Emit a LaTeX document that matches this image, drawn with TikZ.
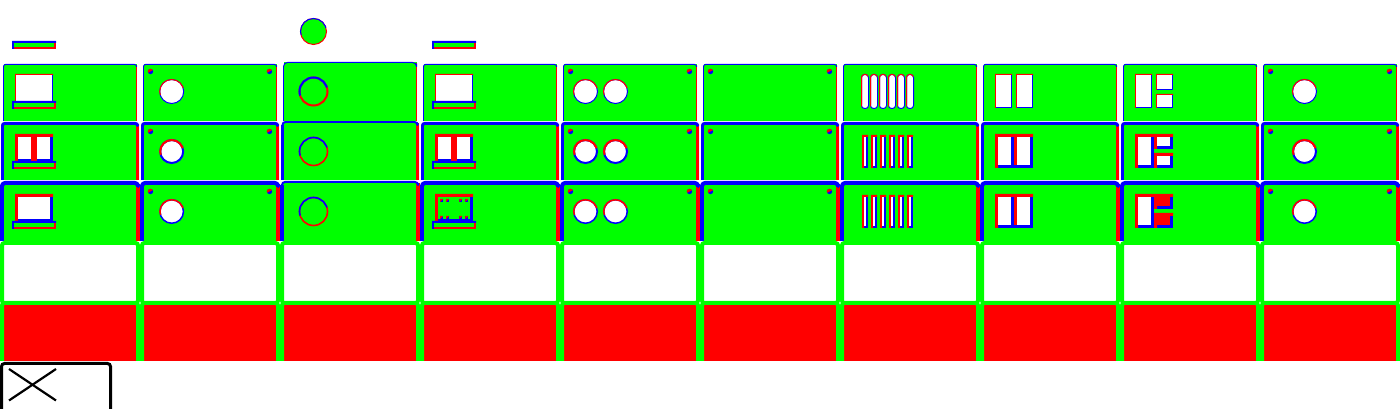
\documentclass[tikz,border=0pt]{standalone}
\definecolor{gr}{RGB}{0,255,0}
\definecolor{bl}{RGB}{0,0,255}
\definecolor{rd}{RGB}{255,0,0}
\tikzset{
  lw/.style={line width=#1*0.75pt},
  roofline/.style={lw=#1,line cap=butt,line join=round},
}
% panel: xl xr ytop lwtop lwside ybot rc
\newcommand\panelbox[7]{%
  \fill[gr] (#1,#3) rectangle (#2,#6);
  \draw[rd,roofline=#5] (#2,{#3+1}) -- (#2,#6);
  \draw[bl,roofline=#5] (#1,#6) -- (#1,{#3+#7});
  \draw[bl,roofline=#4,rounded corners=#7*0.75pt] (#1,{#3+#7+1}) -- (#1,#3) -- (#2,#3) -- (#2,{#3+1.2});
}
% two-tone rectangle: colour top/left, colour bottom/right, fill, x1 y1 x2 y2 lw
\newcommand\lrect[8]{%
  \fill[#2] (#4,#5) rectangle (#6,#7);
  \fill[#1] (#4,#7) -- (#4,#5) -- (#6,#5) -- (#6,{#5+#8}) -- ({#4+#8},{#5+#8}) -- ({#4+#8},#7) -- cycle;
  \fill[#3] ({#4+#8},{#5+#8}) rectangle ({#6-#8},{#7-#8});
}
\newcommand\sill[2]{\lrect{bl}{rd}{gr}{#1}{#2}{#1+44}{#2+8}{2}}
% two-tone ring: cx cy r lw fill upper-colour lower-colour
\newcommand\ring[7]{%
  \fill[#5] (#1,#2) circle[radius=#3*0.75pt];
  \draw[#7,lw=#4] (#1,#2) circle[radius=#3*0.75pt];
  \begin{scope}
    \clip ({#1-2*#3},{#2+0.6*#3}) -- ({#1+2*#3},{#2-0.6*#3}) -- ({#1+2*#3},{#2-3*#3}) -- ({#1-2*#3},{#2-3*#3}) -- cycle;
    \draw[#6,lw=#4] (#1,#2) circle[radius=#3*0.75pt];
  \end{scope}
}
\newcommand\screw[2]{%
  \fill[bl] (#1,#2) circle[radius=2.7*0.75pt];
  \begin{scope}
    \clip ({#1-4},{#2+2}) -- ({#1+4},{#2-2}) -- ({#1+4},{#2-6}) -- ({#1-4},{#2-6}) -- cycle;
    \fill[rd] (#1,#2) circle[radius=2.7*0.75pt];
  \end{scope}
}
\newcommand\fourscrews{%
  \foreach \sy in {71.5,131.5,191.5}{\screw{10.5}{\sy}\screw{129.5}{\sy}}
}
\newcommand\dotmark[2]{%
  \fill[bl] (#1,#2) rectangle ({#1+3},{#2+3});
  \fill[rd] (#1,#2) -- ({#1+3},#2) -- (#1,{#2+3}) -- cycle;
}
\begin{document}
\begin{tikzpicture}[x=0.75pt,y=-0.75pt]
\useasboundingbox (0,0) rectangle (1400,409);
\clip (0,0) rectangle (1400,409);
% loose items above the grid
\sill{12}{41}
\sill{432}{41}
\ring{313.5}{31.5}{13}{1}{gr}{bl}{rd}
% panels
\foreach \c in {0,...,9}{
\begin{scope}[shift={(140*\c,0)}]
  % bottom two rows
  \fill[rd] (4,305) rectangle (136,361);
  \draw[gr,lw=4,rounded corners=2.4*0.75pt] (2,361) -- (2,303) -- (138,303) -- (138,361);
  \draw[gr,lw=4,fill=white,rounded corners=2.4*0.75pt] (2,243) rectangle (138,303);
  % three green rows
  \ifnum\c=2
    \panelbox{2}{138}{182}{2}{4}{241}{3}
    \panelbox{2.5}{137.5}{122}{2}{3}{180}{3}
    \panelbox{3.5}{136.5}{62.5}{1}{1}{120.6}{4}
  \else
    \panelbox{2}{138}{183}{4}{4}{241}{3}
    \panelbox{2.5}{137.5}{123.5}{3}{3}{180}{2}
    \panelbox{3.5}{136.5}{64.5}{1}{1}{121}{2}
  \fi
\end{scope}
}
% windows, columns 0 and 3
\foreach \c in {0,3}{
\begin{scope}[shift={(140*\c,0)}]
  \lrect{rd}{bl}{white}{15}{74}{53}{102}{1}
  \sill{12}{101}
  \lrect{rd}{bl}{white}{15}{134}{53}{162}{3}
  \fill[rd] (31,137) rectangle (37,161);
  \sill{12}{161}
\end{scope}
}
\lrect{rd}{bl}{white}{15}{194}{53}{222}{3}
\sill{12}{221}
\begin{scope}[shift={(420,0)}]
  \lrect{rd}{bl}{gr}{15}{194}{53}{222}{3}
  \sill{12}{221}
  \foreach \dx in {20,26,39.3,45.3}{\dotmark{\dx}{199}\dotmark{\dx}{216}}
\end{scope}
% column 1
\begin{scope}[shift={(140,0)}]
  \fourscrews
  \ring{31.7}{91.5}{12}{1}{white}{rd}{bl}
  \ring{31.7}{151.5}{11.5}{2}{white}{rd}{bl}
  \ring{31.7}{211.5}{11.75}{1.5}{white}{rd}{bl}
\end{scope}
% column 2
\ring{313.5}{91.5}{14}{2}{gr}{bl}{rd}
\ring{313.5}{151.5}{14}{1.6}{gr}{bl}{rd}
\ring{313.5}{211.5}{14}{1.6}{gr}{bl}{rd}
% column 4
\begin{scope}[shift={(560,0)}]
  \fourscrews
  \foreach \cx in {25.5,55.5}{
    \ring{\cx}{91.5}{12}{1}{white}{rd}{bl}
    \ring{\cx}{151.5}{11.5}{2}{white}{rd}{bl}
    \ring{\cx}{211.5}{11.75}{1.5}{white}{rd}{bl}
  }
\end{scope}
% column 5
\begin{scope}[shift={(700,0)}]
  \fourscrews
\end{scope}
% column 6
\begin{scope}[shift={(840,0)}]
  \foreach \k in {0,...,5}{
    \fill[white,rounded corners=3*0.75pt] ({21.5+9*\k},74.5) rectangle ({28.5+9*\k},108.5);
    \draw[bl,lw=1,rounded corners=3*0.75pt] ({21.5+9*\k},74.5) rectangle ({28.5+9*\k},108.5);
    \begin{scope}
      \clip ({21+9*\k},109) -- ({29+9*\k},73) -- ({20+9*\k},73) -- cycle;
      \draw[rd,lw=1,rounded corners=3*0.75pt] ({21.5+9*\k},74.5) rectangle ({28.5+9*\k},108.5);
    \end{scope}
    \lrect{rd}{bl}{white}{22+9*\k}{135}{28+9*\k}{168}{2}
    \lrect{rd}{bl}{white}{22+9*\k}{195}{28+9*\k}{228}{2}
  }
\end{scope}
% column 7
\begin{scope}[shift={(980,0)}]
  \lrect{rd}{bl}{white}{15}{74}{32}{108}{1}
  \lrect{rd}{bl}{white}{36}{74}{53}{108}{1}
  \foreach \oy in {0,60}{
    \lrect{rd}{bl}{white}{15}{134+\oy}{53}{168+\oy}{3}
    \fill[bl] (31,137+\oy) rectangle (34,165+\oy);
    \fill[rd] (34,137+\oy) rectangle (37,165+\oy);
  }
\end{scope}
% column 8
\begin{scope}[shift={(1120,0)}]
  \lrect{rd}{bl}{white}{15}{74}{32}{108}{1}
  \lrect{rd}{bl}{white}{36}{74}{53}{90}{1}
  \lrect{rd}{bl}{white}{36}{94}{53}{108}{1}
  % middle row
  \lrect{rd}{bl}{white}{15}{134}{34}{168}{3}
  \fill[rd] (34,134) rectangle (53,137);
  \fill[bl] (34,165) rectangle (53,168);
  \lrect{rd}{bl}{white}{34}{134}{53}{149}{3}
  \fill[gr] (34,149) rectangle (53,153);
  \lrect{rd}{bl}{white}{34}{153}{53}{168}{3}
  % lower row
  \lrect{rd}{bl}{white}{15}{194}{34}{228}{3}
  \lrect{rd}{bl}{rd}{34}{194}{53}{209}{3}
  \fill[gr] (34,209) rectangle (53,213);
  \lrect{rd}{bl}{rd}{34}{213}{53}{228}{3}
\end{scope}
% column 9
\begin{scope}[shift={(1260,0)}]
  \fourscrews
  \ring{44.5}{91.5}{12}{1}{white}{rd}{bl}
  \ring{44.5}{151.5}{11.5}{2}{white}{rd}{bl}
  \ring{44.5}{211.5}{11.75}{1.5}{white}{rd}{bl}
\end{scope}
% lower-left outlined box with cross
\draw[black,lw=3,rounded corners=3*0.75pt] (1.5,415) -- (1.5,363.5) -- (110.5,363.5) -- (110.5,415);
\draw[black,lw=2.2] (9,369) -- (56,400.5);
\draw[black,lw=2.2] (9,400.5) -- (56,369);
\end{tikzpicture}
\end{document}
